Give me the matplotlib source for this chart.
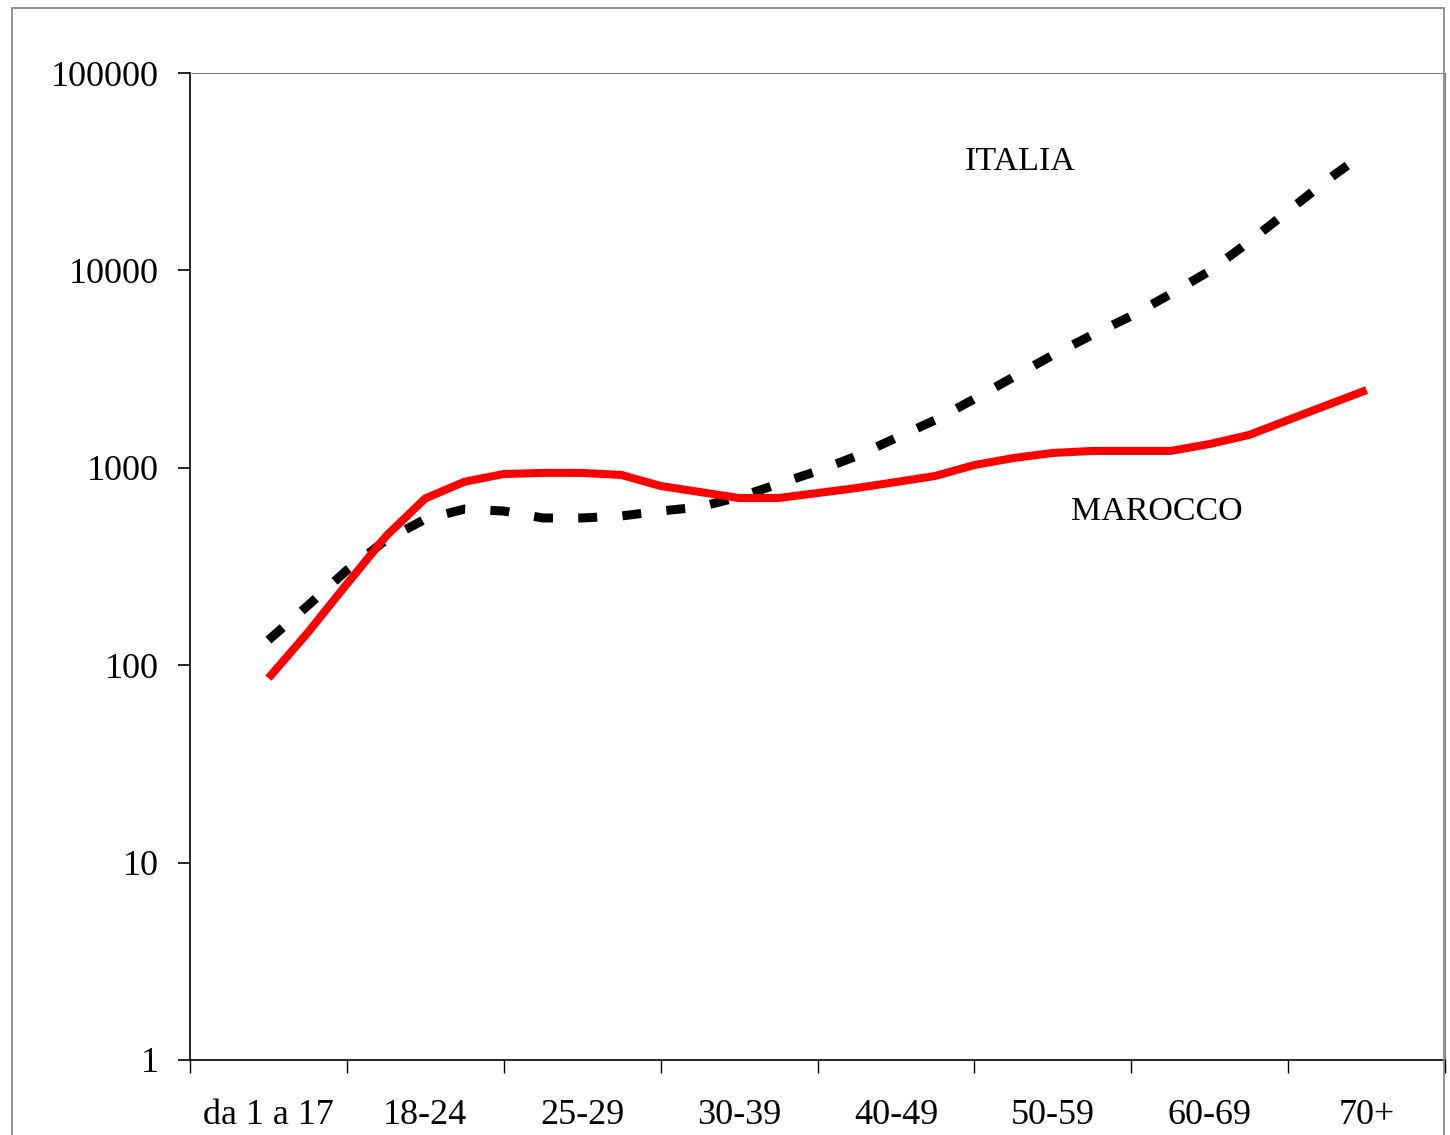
import numpy as np
import matplotlib
matplotlib.use('Agg')
import matplotlib.pyplot as plt
from matplotlib.patches import Rectangle
from matplotlib.ticker import FixedLocator, FuncFormatter, NullLocator

plt.rcParams.update({'font.family': 'Liberation Serif', 'font.size': 26})

# age classes
categories = ['da 1 a 17', '18-24', '25-29', '30-39', '40-49', '50-59', '60-69', '70+']

# the curves are drawn at quarter-class steps
x_pos = np.arange(0, 7.01, 0.25)
marocco = [86, 146, 258, 451, 700, 850, 930, 942, 942, 920, 809, 754, 703, 703, 745,
           790, 847, 909, 1033, 1121, 1189, 1217, 1217, 1217, 1320, 1466, 1746, 2080, 2477]
italia = [134, 200, 303, 431, 550, 618, 604, 557, 557, 570, 604, 633, 711, 828, 963,
          1148, 1416, 1746, 2233, 2885, 3726, 4707, 5873, 7590, 9935, 13930, 19990, 28700, 40000]

fig = plt.figure(figsize=(14.5, 11.35), dpi=100)
ax = fig.add_axes([190 / 1450, 75 / 1135, 1255 / 1450, 987 / 1135])

ax.plot(x_pos, italia, color='black', lw=6.5, ls=(0, (2.1, 2.8)), dash_capstyle='butt')
ax.plot(x_pos, marocco, color='#ff0000', lw=5.8, solid_capstyle='butt')

ax.set_yscale('log')
ax.set_ylim(1, 100000)
ax.set_xlim(-0.5, 7.5)

ax.yaxis.set_major_locator(FixedLocator([1, 10, 100, 1000, 10000, 100000]))
ax.yaxis.set_minor_locator(NullLocator())
ax.yaxis.set_major_formatter(FuncFormatter(lambda v, p: '%d' % round(v)))
ax.tick_params(axis='y', length=8.6, width=1.2, pad=14, labelsize=26)

ax.set_xticks(range(len(categories)))
ax.set_xticklabels(categories)
ax.set_xticks(np.arange(-0.5, 7.6, 1), minor=True)
ax.tick_params(axis='x', which='major', length=0, pad=28, labelsize=26)
ax.tick_params(axis='x', which='minor', length=9.5, width=1.0)

for s in ['left', 'bottom']:
    ax.spines[s].set_linewidth(1.2)
ax.spines['top'].set_color('#808080')
ax.spines['top'].set_linewidth(0.8)
ax.spines['right'].set_color('#808080')
ax.spines['right'].set_linewidth(0.8)

ax.text(4.44, 35400, 'ITALIA', fontsize=24.5, va='center', ha='left')
ax.text(5.115, 597, 'MAROCCO', fontsize=24.5, va='center', ha='left')

# outer chart frame
fig.add_artist(Rectangle((12 / 1450, -0.05), 1432 / 1450, 1.05 - 8 / 1135,
                         transform=fig.transFigure, fill=False,
                         edgecolor='#808080', lw=1.2))

fig.savefig('out.png', dpi=100)
